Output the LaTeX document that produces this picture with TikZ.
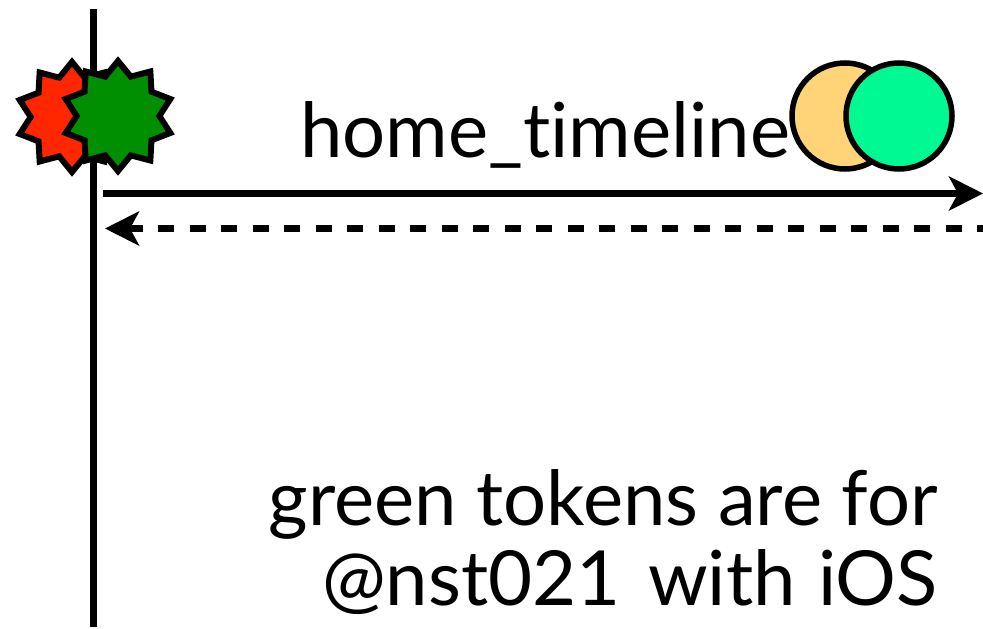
\documentclass[tikz,border=0pt]{standalone}
\usepackage{fontspec}
\setmainfont{Lato}[Ligatures={NoCommon}]
\usetikzlibrary{shapes.geometric,arrows.meta}
\definecolor{burstred}{RGB}{255,38,0}
\definecolor{burstgreen}{RGB}{0,143,0}
\definecolor{tokenorange}{RGB}{255,212,121}
\definecolor{tokengreen}{RGB}{0,249,146}
\tikzset{
  burst/.style={star, star points=10, star point ratio=1.33, draw=black,
    line width=6pt, inner sep=0pt, minimum size=110pt},
  token/.style={circle, draw=black, line width=5.5pt, inner sep=0pt,
    minimum size=106pt},
  label/.style={inner sep=0pt, font=\fontsize{76}{80}\selectfont},
  msg/.style={line width=7pt, -{Stealth[length=34pt, width=34pt, inset=9pt]}},
}
\begin{document}
\begin{tikzpicture}[x=1pt, y=-1pt]
  \useasboundingbox (0,0) rectangle (983,629);
  % client lifeline
  \coordinate (lifetop) at (93,9);
  \coordinate (lifebot) at (93,627);
  \draw[line width=7pt] (lifetop) -- (lifebot);
  % state bursts on the lifeline
  \node[burst, fill=burstred] (redburst) at (72,117) {};
  \node[burst, fill=burstgreen] (greenburst) at (118,116) {};
  % request and its response
  \coordinate (reqstart) at (103,193.5);
  \coordinate (reqend) at (983,193.5);
  \coordinate (respstart) at (983,228.5);
  \coordinate (respend) at (105,228.5);
  \draw[msg] (reqstart) -- (reqend);
  \draw[msg, dash pattern=on 16pt off 15.5pt, dash phase=10pt] (respstart) -- (respend);
  % request name and tokens
  \node[label, anchor=base west] (reqname) at (300,157) {home\_timeline};
  \node[token, fill=tokenorange] (orangetoken) at (845,116) {};
  \node[token, fill=tokengreen] (greentoken) at (899,116) {};
  % caption
  \node[label, anchor=base east] (caption1) at (938,525) {green tokens are for};
  \node[label, anchor=base east] (caption2) at (938,605) {@nst021\hspace{8pt} with\hspace{3pt} iOS};
\end{tikzpicture}
\end{document}
